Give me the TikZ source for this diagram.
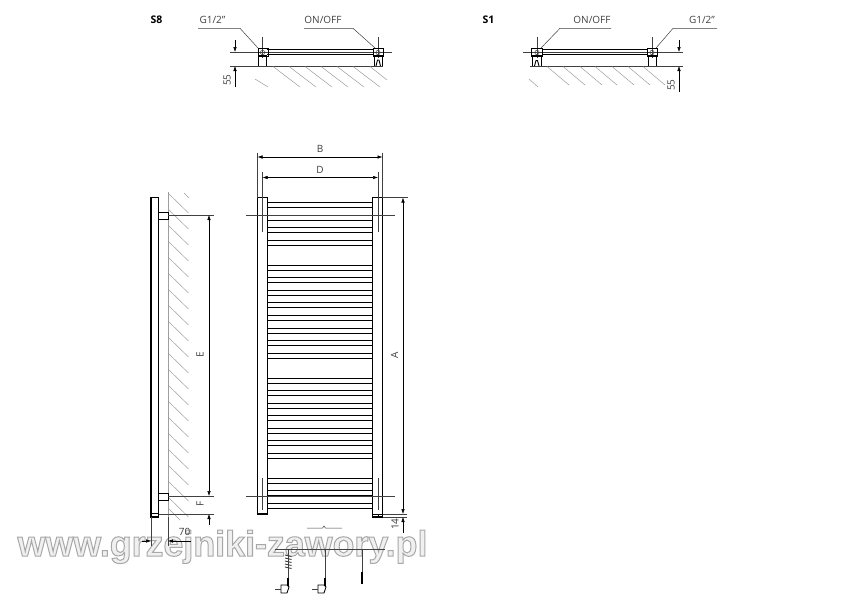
\documentclass[tikz,border=0pt]{standalone}
\usepackage{fontspec}
\setmainfont{Open Sans}
\newfontfamily\markfont{Liberation Sans}[BoldFont={Liberation Sans Bold}]
\usepackage{tikz}
\usetikzlibrary{arrows.meta, positioning, calc}
\definecolor{hatchgray}{gray}{0.62}
\definecolor{dimgray}{gray}{0.25}
\definecolor{markfill}{gray}{0.94}
\newcommand{\markoutline}{\special{pdf:code q 2 Tr 1 w 0.66 G}}
\newcommand{\markreset}{\special{pdf:code Q}}
\tikzset{
	body/.style={draw=black, line width=1.5pt, fill=white},
	tube/.style={draw=black, line width=1.2pt},
	fitting/.style={draw=black, line width=0.9pt},
	thin line/.style={draw=dimgray, line width=0.5pt},
	hatch/.style={draw=hatchgray, line width=0.5pt},
	dimhead/.style={draw=black, line width=0.5pt, -{Latex[length=5pt,width=3.5pt]}},
	dim/.style={draw=black, line width=0.5pt, {Latex[length=5pt,width=3.5pt]}-{Latex[length=5pt,width=3.5pt]}},
	lbl/.style={text=dimgray, font=\fontsize{10}{12}\selectfont, inner sep=1pt},
	vlbl/.style={lbl, rotate=90},
	titlelbl/.style={font=\fontsize{10.5}{12}\selectfont\bfseries, inner sep=1pt},
	cable/.style={draw=dimgray, line width=1pt},
}
\begin{document}
\begin{tikzpicture}[x=1pt, y=-1pt]
	\useasboundingbox[fill=white] (0,0) rectangle (850,600);

	% --- S8 top view
	\node[titlelbl] (s8) at (156.5,20) {S8};
	\node[lbl] (g8) at (212.5,20) {G1/2"};
	\node[lbl] (on8) at (323,20) {ON/OFF};
	\coordinate (g8a) at (198,28.3);
	\coordinate (g8b) at (240,28.3);
	\coordinate (g8c) at (258,48);
	\draw[thin line] (g8a) -- (g8b) -- (g8c);
	\coordinate (on8a) at (304,28.3);
	\coordinate (on8b) at (353,28.3);
	\coordinate (on8c) at (375,48);
	\draw[thin line] (on8a) -- (on8b) -- (on8c);
	\draw[tube] (267,49.5) -- (373,49.5) (267,54.5) -- (373,54.5);
	\draw[thin line] (230,52) -- (392,52);
	\draw[thin line] (262,37) -- (262,58) (378,37) -- (378,58);
	\draw[fitting] (258,55) rectangle (266,66.7);
	\draw[fitting] (374,55) rectangle (382,66.7);
	\draw[fitting] (258,48) rectangle (268,56.5);
	\draw[fitting] (373,48) rectangle (383,56.5);
	\draw[thin line] (262.5,52.5) circle (2.2);
	\draw[thin line] (378,52.5) circle (2.2);
	\draw[fitting] (376,66) -- (377.5,60) -- (379,60) -- (380.5,66);
	\draw[thin line] (230,66) -- (383,66);
	\foreach \x in {273,289,305,321,337,353}
		\draw[hatch] (\x,66.5) -- (\x+27,87);
	\draw[hatch] (370,66.5) -- (387,80);
	\draw[hatch] (255,79) -- (268,87);
	\coordinate (d8a) at (235,40);
	\coordinate (d8b) at (235,52);
	\coordinate (d8c) at (235,66);
	\coordinate (d8d) at (235,87);
	\draw[dimhead] (d8a) -- (d8b);
	\draw[dimhead] (d8d) -- (d8c);
	\node[vlbl] (n55a) at (227,80) {55};

	% --- S1 top view
	\node[titlelbl] (s1) at (488.5,20) {S1};
	\node[lbl] (on1) at (592,20) {ON/OFF};
	\node[lbl] (g1) at (702,20) {G1/2"};
	\coordinate (on1a) at (611,28.3);
	\coordinate (on1b) at (560,28.3);
	\coordinate (on1c) at (541,48);
	\draw[thin line] (on1a) -- (on1b) -- (on1c);
	\coordinate (g1a) at (717,28.3);
	\coordinate (g1b) at (673,28.3);
	\coordinate (g1c) at (656,48);
	\draw[thin line] (g1a) -- (g1b) -- (g1c);
	\draw[tube] (542,49.5) -- (647,49.5) (542,54.5) -- (647,54.5);
	\draw[thin line] (523,52) -- (683,52);
	\draw[thin line] (537,37) -- (537,58) (652,37) -- (652,58);
	\draw[fitting] (532,55) rectangle (541,66.7);
	\draw[fitting] (648,55) rectangle (656,66.7);
	\draw[fitting] (531.5,48) rectangle (542,56.5);
	\draw[fitting] (647,48) rectangle (657,56.5);
	\draw[thin line] (537,52.5) circle (2.2);
	\draw[thin line] (652,52.5) circle (2.2);
	\draw[fitting] (534.5,66) -- (536,60.5) -- (537.5,60.5) -- (539,66);
	\draw[thin line] (530,66) -- (683,66);
	\foreach \x in {547,563,580,595,612,628,643}
		\draw[hatch] (\x,66.5) -- (\x+22,85);
	\draw[hatch] (529,79) -- (538,87);
	\coordinate (d1a) at (679,40);
	\coordinate (d1b) at (679,52);
	\coordinate (d1c) at (679,66);
	\coordinate (d1d) at (679,92);
	\draw[dimhead] (d1a) -- (d1b);
	\draw[dimhead] (d1d) -- (d1c);
	\node[vlbl] (n55b) at (671,85) {55};

	% --- watermark
	\node[anchor=base, text=markfill, font=\markfont\bfseries\fontsize{35.8}{42}\selectfont, inner sep=0pt] (mark) at (222.5,556) {\markoutline www.grzejniki-zawory.pl\markreset};

	% --- side view and wall
	\draw[hatch] (168,192) -- (168,520);
	\foreach \y in {193,209,...,498}
		\draw[hatch] (168,\y) -- (188.5,\y+20);
	\draw[hatch] (184,193) -- (189,198);
	\draw[hatch] (168,508) -- (180,520);
	\draw[body] (151,197.5) rectangle (158.5,517);
	\draw[fitting] (151,513.5) -- (158.5,513.5);
	\draw[fitting, fill=white] (158.5,212) rectangle (168,219.5);
	\draw[fitting, fill=white] (158.5,493) rectangle (168,500.5);
	\draw[thin line] (168,215) -- (214,215);
	\draw[thin line] (168,496) -- (214,496);
	\draw[thin line] (158.5,514) -- (214,514);
	\draw[dim] (209,215) -- (209,496);
	\node[vlbl] (lblE) at (200,355) {E};
	\draw[dimhead] (209,525) -- (209,514);
	\node[vlbl] (lblF) at (200,504) {F};

	% --- front view rails and bars
	\foreach \y in {202.5,215.5,227.5,240.5,265.5,277.5,290.5,302.5,315.5,328.5,340.5,353.5,378.5,390.5,403.5,415.5,428.5,440.5,453.5,478.5,490.5,503.5}
		\draw[tube] (267,\y) -- (373,\y) (267,\y+5) -- (373,\y+5);
	\draw[body] (257.5,197.5) rectangle (267.5,514);
	\draw[body] (372.5,197.5) rectangle (382.5,517);
	\draw[fitting] (372.5,514) -- (382.5,514) (378,514) -- (378,517);
	\draw[thin line] (246,215) -- (395,215);
	\draw[thin line] (246,496) -- (395,496);
	\draw[thin line] (262.5,172) -- (262.5,231.5) (378,172) -- (378,231.5);
	\draw[thin line] (262.5,478) -- (262.5,510) (378,478) -- (378,510);
	\draw[thin line] (257.5,152.5) -- (257.5,197.5) (382.5,152.5) -- (382.5,197.5);

	% --- dimensions on top and right
	\draw[dim] (257.5,157) -- (382.5,157);
	\node[lbl] (lblB) at (320,149) {B};
	\draw[dim] (262.5,177.5) -- (378,177.5);
	\node[lbl] (lblD) at (320,170) {D};
	\draw[thin line] (382.5,197.5) -- (408,197.5);
	\draw[thin line] (382.5,514) -- (407,514) (382.5,517) -- (407,517);
	\draw[dim] (403,197.5) -- (403,514);
	\node[vlbl] (lblA) at (394.5,355) {A};
	\draw[dimhead] (403,533) -- (403,517);
	\node[vlbl] (n14) at (395,524) {14};

	% --- depth dimension
	\draw[thin line] (151,517) -- (151,546) (168,517) -- (168,546);
	\draw[dimhead] (142,541) -- (151,541);
	\draw[dimhead] (191,541) -- (168,541);
	\node[lbl] (n70) at (184.5,532) {70};

	% --- cable and heater symbols
	\draw[thin line] (307,528) -- (322.5,528) -- (324,526) -- (325.5,528) -- (342,528);
	\draw[thin line] (275,549) -- (385,549);
	\draw[cable] (288,549) -- (288,578);
	\draw[cable] (325,549) -- (325,578);
	\draw[cable] (362,549) -- (362,572);
	\foreach \y in {555,558,...,567}
		\draw[line width=0.9pt, dimgray] (285,\y) -- (291.5,\y+1.5);
	\draw[line width=1.6pt] (288,578) -- (288,586);
	\draw[line width=1.6pt] (325,578) -- (325,586);
	\draw[line width=1.2pt] (362,572) -- (362,584);
	\draw[fitting, fill=white] (281,585) -- (287,585) -- (289,587) -- (287,593) -- (281,593) -- cycle;
	\draw[fitting, fill=white] (318,585) -- (324,585) -- (326,587) -- (324,593) -- (318,593) -- cycle;
	\draw[thin line] (275,589) -- (281,589) (312,589) -- (318,589);
\end{tikzpicture}
\end{document}
